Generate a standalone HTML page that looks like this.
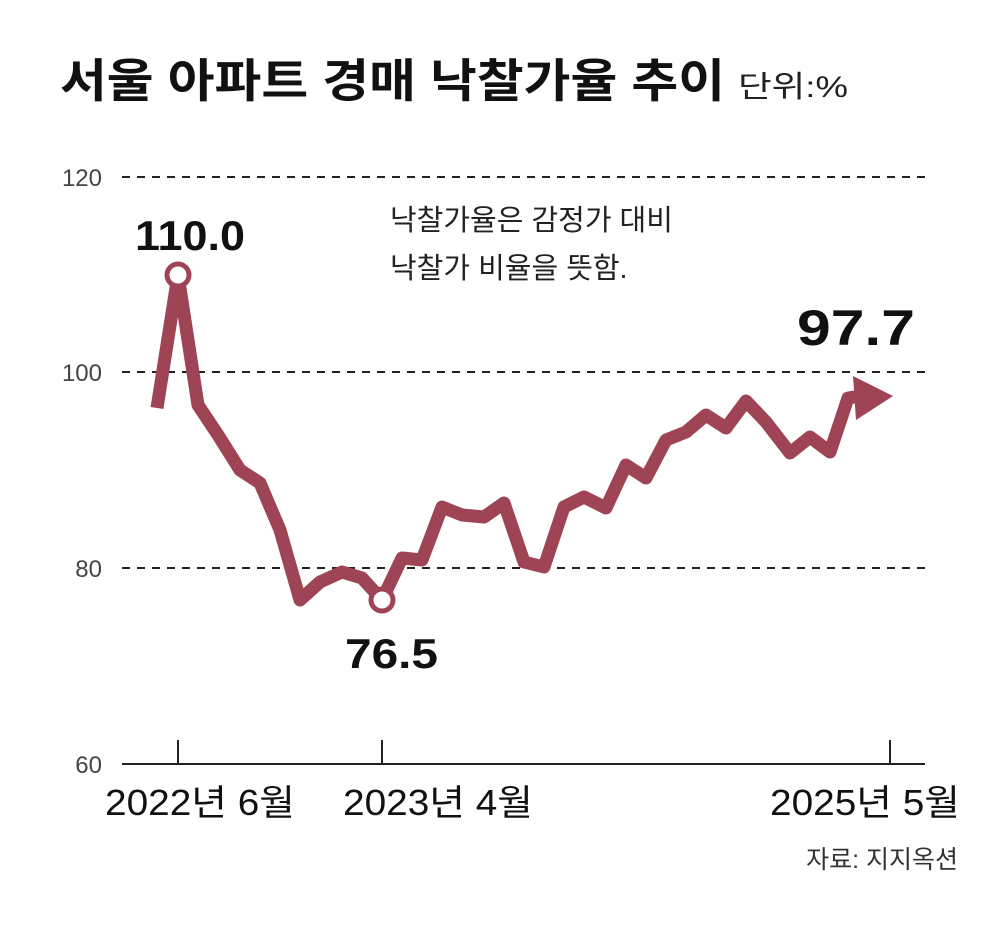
<!DOCTYPE html>
<html><head><meta charset="utf-8"><style>
body{margin:0;background:#fff;}
svg text{font-family:"Liberation Sans","Noto Sans CJK KR",sans-serif;}
</style></head><body>
<svg width="1000" height="935" viewBox="0 0 1000 935" xmlns="http://www.w3.org/2000/svg">
<rect width="1000" height="935" fill="#fff"/>
<text x="60" y="97" font-size="46" font-weight="bold" fill="#111" textLength="665" lengthAdjust="spacingAndGlyphs">서울 아파트 경매 낙찰가율 추이</text>
<text x="738" y="97" font-size="30" fill="#222" textLength="110" lengthAdjust="spacingAndGlyphs">단위:%</text>
<g stroke="#222" stroke-width="2" stroke-dasharray="8,7">
<line x1="122" y1="177" x2="925" y2="177"/>
<line x1="122" y1="372" x2="925" y2="372"/>
<line x1="122" y1="568" x2="925" y2="568"/>
</g>
<line x1="122" y1="764" x2="925" y2="764" stroke="#222" stroke-width="2"/>
<g stroke="#222" stroke-width="2">
<line x1="178" y1="740" x2="178" y2="764"/>
<line x1="382" y1="740" x2="382" y2="764"/>
<line x1="890" y1="740" x2="890" y2="764"/>
</g>
<g font-size="24" fill="#444" text-anchor="end">
<text x="102" y="186">120</text><text x="102" y="381">100</text><text x="102" y="577">80</text><text x="102" y="773">60</text>
</g>
<g font-size="36" fill="#111">
<text x="105" y="815" textLength="190" lengthAdjust="spacingAndGlyphs">2022년 6월</text>
<text x="343" y="815" textLength="190" lengthAdjust="spacingAndGlyphs">2023년 4월</text>
<text x="770" y="815" textLength="190" lengthAdjust="spacingAndGlyphs">2025년 5월</text>
</g>
<text x="958" y="868" font-size="25" fill="#333" text-anchor="end">자료: 지지옥션</text>
<text x="390" y="230" font-size="29" fill="#222">낙찰가율은 감정가 대비</text>
<text x="390" y="278" font-size="29" fill="#222">낙찰가 비율을 뜻함.</text>
<polyline fill="none" stroke="#9e4455" stroke-width="13" stroke-linejoin="round" points="157,408 178,275 198,405 218,435 240,470 260,483 280,530 300,600 320,582 342,572 362,578 382,600 402,558 422,560 442,507 462,515 484,517 504,503 524,562 544,567 564,507 584,497 606,508 626,465 646,478 666,440 686,432 706,415 726,428 746,401 766,422 790,453 810,437 830,452 848,398 862,396"/>
<polygon points="853,376 893,396 856,420" fill="#9e4455"/>
<circle cx="178" cy="275" r="11" fill="#fff" stroke="#9e4455" stroke-width="5"/>
<circle cx="382" cy="600" r="11" fill="#fff" stroke="#9e4455" stroke-width="5"/>
<text x="135" y="250" font-size="42" font-weight="bold" fill="#111" textLength="110" lengthAdjust="spacingAndGlyphs">110.0</text>
<text x="345" y="668" font-size="42" font-weight="bold" fill="#111" textLength="93" lengthAdjust="spacingAndGlyphs">76.5</text>
<text x="797" y="345" font-size="50" font-weight="bold" fill="#111" textLength="118" lengthAdjust="spacingAndGlyphs">97.7</text>
</svg>
</body></html>
